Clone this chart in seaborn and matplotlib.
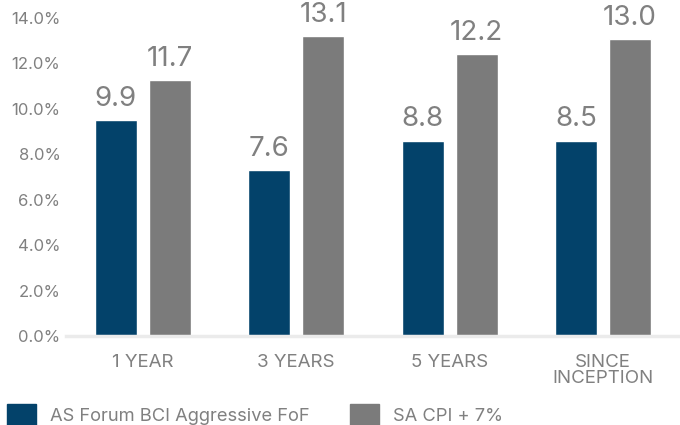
import pandas as pd
import matplotlib.pyplot as plt
import seaborn as sns
from matplotlib.patches import Patch

# values
periods = ["1 YEAR", "3 YEARS", "5 YEARS", "SINCE\nINCEPTION"]
series_names = ["AS Forum BCI Aggressive FoF", "SA CPI + 7%"]
fund_bars = [9.5, 7.3, 8.6, 8.6]
cpi_bars = [11.25, 13.2, 12.4, 13.05]
fund_labels = ["9.9", "7.6", "8.8", "8.5"]
cpi_labels = ["11.7", "13.1", "12.2", "13.0"]
y_ticks = [0, 2, 4, 6, 8, 10, 12, 14]

colors = ["#03426A", "#7B7B7B"]
text_grey = "#808080"

df = pd.DataFrame({
    "period": periods * 2,
    "series": [series_names[0]] * len(periods) + [series_names[1]] * len(periods),
    "value": fund_bars + cpi_bars,
})

sns.set_theme(style="white")
plt.rcParams["font.family"] = ["Inter", "DejaVu Sans"]

fig = plt.figure(figsize=(6.8, 4.25), dpi=100)
ax = fig.add_axes([0.097, 0.209, 0.903, 0.749])

sns.barplot(data=df, x="period", y="value", hue="series", palette=colors,
            width=0.70, gap=0.22, saturation=1, legend=False, ax=ax)

for container, labels in zip(ax.containers, [fund_labels, cpi_labels]):
    ax.bar_label(container, labels=labels, padding=6, fontsize=20, color=text_grey)

ax.set_xlim(-0.5, len(periods) - 0.5)
ax.set_ylim(0, 14)
ax.set_yticks(y_ticks)
ax.set_yticklabels([f"{t:.1f}%" for t in y_ticks])
ax.set_xlabel("")
ax.set_ylabel("")

for side in ["top", "right", "left"]:
    ax.spines[side].set_visible(False)
ax.spines["bottom"].set_color("#ebebeb")
ax.spines["bottom"].set_linewidth(2.5)

ax.tick_params(axis="y", length=0, labelsize=12, labelcolor=text_grey, pad=4)
ax.tick_params(axis="x", length=0, labelsize=13.5, labelcolor=text_grey, pad=13)
for lbl in ax.get_xticklabels():
    lbl.set_linespacing(0.9)

handles = [Patch(color=c) for c in colors]
fig.legend(handles, series_names, loc="lower left", bbox_to_anchor=(0.01, -0.005),
           ncol=2, frameon=False, fontsize=13.2, handlelength=1.58, handleheight=1.58,
           handletextpad=0.77, columnspacing=2.2, labelcolor=text_grey,
           borderpad=0, borderaxespad=0)

fig.savefig("out.png", dpi=100)
